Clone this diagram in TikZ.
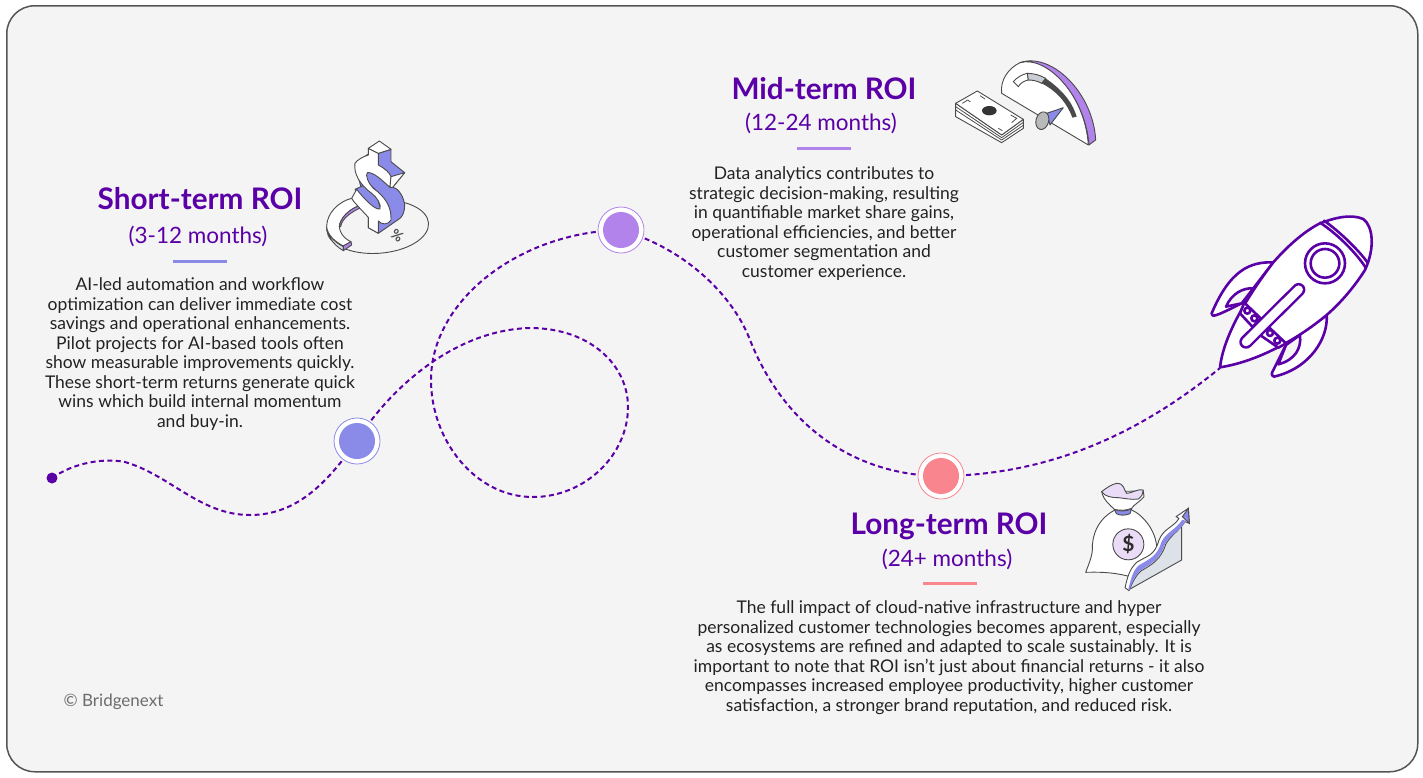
\documentclass[tikz,border=0pt]{standalone}
\usepackage{fontspec}
\setmainfont{Lato}
\definecolor{bgc}{HTML}{F4F4F4}
\definecolor{framec}{HTML}{555555}
\definecolor{ink}{HTML}{5A00A6}
\definecolor{txt}{HTML}{222222}
\definecolor{blu}{HTML}{8A8AE8}
\definecolor{lil}{HTML}{B383EC}
\definecolor{red}{HTML}{F9868E}
\definecolor{pale}{HTML}{EADCF7}
\definecolor{slate}{HTML}{DDE1E8}
\definecolor{edge}{HTML}{4A4A4A}
\tikzset{
  titlet/.style={text=ink,font=\fontsize{29.7}{33}\selectfont\bfseries,anchor=center,inner sep=0pt},
  subt/.style={text=ink,font=\fontsize{22.5}{26}\selectfont,anchor=center,inner sep=0pt},
  body/.style={text=txt,font=\fontsize{17.5}{19.5}\selectfont,align=center,anchor=north,inner sep=0pt},
  stopdot/.style={circle,minimum size=36pt,inner sep=0pt,fill=#1,outer sep=5pt},
  stopring/.style={circle,minimum size=46pt,inner sep=0pt,fill=white,draw=#1,line width=.8pt},
  route/.style={draw=ink,line width=2pt,dash pattern=on 5pt off 3.4pt},
  underl/.style={line width=3pt,draw=#1},
  icon/.style={draw=edge,line width=.9pt,line join=round,fill=white},
  rocketl/.style={draw=ink,line width=2.6pt,line join=round,line cap=round,fill=white},
}
\begin{document}
\begin{tikzpicture}[x=1pt,y=-1pt]
\useasboundingbox (0,0) rectangle (1423,777);
\node[draw=framec,line width=1.5pt,fill=bgc,rounded corners=28pt,minimum width=1411pt,minimum height=766pt,inner sep=0pt,anchor=north west] (frame) at (6,5) {};

% route coordinates and stops
\coordinate (start) at (52,478);
\coordinate (tail) at (1220,368);
\coordinate (s1) at (357,441);
\coordinate (s2) at (621,230);
\coordinate (s3) at (941,476);
\draw[route] (start) .. controls (75,462) and (105,458) .. (125,462)
  .. controls (170,475) and (200,515) .. (250,515)
  .. controls (300,515) and (330,478) .. (s1);
\draw[route] (s1) .. controls (385,395) and (450,330) .. (530,328)
  .. controls (590,328) and (628,365) .. (628,407)
  .. controls (628,455) and (585,497) .. (533,497)
  .. controls (475,497) and (431,440) .. (431,380)
  .. controls (431,300) and (520,232) .. (s2);
\draw[route] (s2) .. controls (690,250) and (735,300) .. (750,340)
  .. controls (790,440) and (870,476) .. (s3);
\draw[route] (s3) .. controls (1060,475) and (1150,425) .. (tail);
\fill[ink] (start) circle (5.5pt);

\node[stopring=blu] (r1) at (s1) {};
\node[stopdot=blu] (d1) at (s1) {};
\node[stopring=lil] (r2) at (s2) {};
\node[stopdot=lil] (d2) at (s2) {};
\node[stopring=red] (r3) at (s3) {};
\node[stopdot=red] (d3) at (s3) {};

% text
\node[titlet] (t1) at (200,199) {Short-term ROI};
\node[subt] (st1) at (198,236) {(3-12 months)};
\draw[underl=blu] (173,261) -- (227,261);
\node[body] (b1) at (200,277.5) {AI-led automation and workflow\\optimization can deliver immediate cost\\savings and operational enhancements.\\Pilot projects for AI-based tools often\\show measurable improvements quickly.\\These short-term returns generate quick\\wins which build internal momentum\\and buy-in.};

\node[titlet] (t2) at (824,89) {Mid-term ROI};
\node[subt] (st2) at (821,123) {(12-24 months)};
\draw[underl=lil] (797,148) -- (851,148);
\node[body] (b2) at (824,166.5) {Data analytics contributes to\\strategic decision-making, resulting\\in quantifiable market share gains,\\operational efficiencies, and better\\customer segmentation and\\customer experience.};

\node[titlet] (t3) at (949,526) {Long-term ROI};
\node[subt] (st3) at (947,559) {(24+ months)};
\draw[underl=red] (923,583) -- (977,583);
\node[body] (b3) at (949,600.5) {The full impact of cloud-native infrastructure and hyper\\personalized customer technologies becomes apparent, especially\\as ecosystems are refined and adapted to scale sustainably. It is\\important to note that ROI isn’t just about financial returns - it also\\encompasses increased employee productivity, higher customer\\satisfaction, a stronger brand reputation, and reduced risk.};

\node[text=gray!85!black,font=\fontsize{17}{19}\selectfont,inner sep=0pt] (copy) at (113.5,702) {© Bridgenext};

% dollar icon
\begin{scope}[shift={(310,130)},x=.3333pt,y=-.3333pt]
\draw[icon,fill=none,rotate around={4:(203,290)}] (203,290) ellipse (153 and 80);
\draw[icon,fill=slate] (50,290) .. controls (50,315) and (70,345) .. (100,362) -- (100,350) .. controls (70,335) and (50,310) .. (50,290) -- cycle;
\draw[icon] (125,205) .. controls (85,215) and (50,250) .. (50,290) .. controls (52,315) and (75,335) .. (100,348) -- (123,335) .. controls (100,325) and (88,305) .. (88,290) .. controls (90,265) and (115,240) .. (145,228) -- cycle;
\draw[icon,fill=lil] (88,290) .. controls (90,265) and (115,240) .. (145,228) -- (150,234) .. controls (120,248) and (95,268) .. (92,290) -- cycle;
\draw[icon,fill=lil] (100,348) -- (123,335) -- (125,345) -- (100,362) -- cycle;
\draw[icon,fill=blu] (205,70) -- (243,58) -- (243,95) -- (284,128) -- (248,172) .. controls (268,175) and (282,205) .. (284,225) .. controls (284,245) and (278,258) .. (270,265) -- (205,310) -- (175,293) -- (175,262) -- (135,100) -- (175,72) -- cycle;
\draw[icon,fill=blu] (135,178) -- (175,160) -- (195,178) -- (212,237) -- (190,240) -- cycle;
\draw[icon] (175,55) -- (205,70) -- (205,105) .. controls (225,115) and (240,130) .. (243,140) -- (240,172) .. controls (215,150) and (190,125) .. (172,128) .. controls (165,135) and (175,160) .. (190,175) .. controls (225,200) and (245,230) .. (243,270) .. controls (235,285) and (215,285) .. (205,273) -- (205,310) -- (175,293) -- (175,262) .. controls (150,235) and (130,215) .. (125,205) -- (140,178) .. controls (165,210) and (195,240) .. (210,237) .. controls (215,225) and (200,200) .. (185,190) .. controls (150,165) and (130,130) .. (135,100) .. controls (140,90) and (160,80) .. (175,75) -- cycle;
\draw[icon] (175,55) -- (208,33) -- (243,58) -- (205,70) -- cycle;
\draw[icon] (243,140) -- (284,128) -- (248,172) -- (240,172) -- cycle;
\node[rotate=-35,text=edge,font=\fontsize{14}{16}\selectfont\bfseries,inner sep=0pt] (pct) at (262,318) {\%};
\end{scope}

% gauge and money icon
\begin{scope}[shift={(945,50)},x=.3333pt,y=-.3333pt]
\draw[icon] (32,160) -- (32,200) -- (170,278) -- (235,235) -- (235,208) -- (170,255) -- cycle;
\draw[edge,line width=.8pt] (32,170) -- (170,263) -- (235,217) (32,180) -- (170,270) -- (235,226);
\draw[icon] (32,160) -- (97,123) -- (235,208) -- (170,255) -- cycle;
\fill[edge!70!black] (133,182) ellipse (22 and 14);
\draw[edge,line width=.8pt] (52,160) -- (68,150) -- (76,156) (105,137) -- (120,147) (197,195) -- (215,205) -- (200,218) (160,235) -- (172,242);
\draw[icon] (170,130) .. controls (165,90) and (190,55) .. (225,38) .. controls (300,10) and (420,130) .. (430,285) -- cycle;
\draw[icon,fill=lil] (225,38) .. controls (320,5) and (445,130) .. (452,270) -- (432,285) .. controls (420,130) and (300,15) .. (225,38) -- cycle;
\draw[edge,line width=.9pt,fill=white] (205,95) .. controls (215,82) and (235,72) .. (247,70) -- (250,90) .. controls (238,92) and (225,100) .. (220,110) -- cycle;
\draw[edge,line width=.9pt,fill=slate!80!gray] (247,70) .. controls (265,70) and (285,75) .. (302,85) -- (290,100) .. controls (278,93) and (262,90) .. (250,90) -- cycle;
\fill[edge] (302,85) .. controls (345,115) and (380,150) .. (395,200) -- (382,203) .. controls (365,155) and (330,120) .. (290,100) -- cycle;
\draw[icon,fill=blu] (305,190) -- (355,173) -- (315,225) -- cycle;
\draw[icon,fill=gray!55,rotate around={-15:(292,212)}] (292,212) ellipse (19 and 27);
\end{scope}

% money bag and chart icon
\begin{scope}[shift={(1075,475)},x=.3333pt,y=-.3333pt]
\draw[icon] (120,105) .. controls (70,130) and (50,180) .. (52,225) .. controls (50,250) and (40,270) .. (32,292) .. controls (90,290) and (130,295) .. (165,305) -- (245,220) .. controls (245,170) and (205,120) .. (170,105) -- cycle;
\draw[icon,fill=blu] (118,103) .. controls (135,110) and (155,110) .. (170,100) -- (165,116) .. controls (150,122) and (135,122) .. (124,116) -- cycle;
\draw[icon] (80,50) .. controls (85,75) and (105,90) .. (118,103) .. controls (135,108) and (155,106) .. (170,100) .. controls (175,90) and (195,80) .. (207,65) -- (205,48) -- cycle;
\draw[icon,fill=pale] (80,50) .. controls (95,38) and (110,28) .. (125,25) .. controls (150,25) and (145,45) .. (155,55) .. controls (170,55) and (190,40) .. (205,45) .. controls (205,55) and (200,65) .. (190,72) .. controls (170,75) and (150,70) .. (130,68) .. controls (110,68) and (90,65) .. (80,50) -- cycle;
\node[circle,draw=edge,line width=.9pt,fill=pale,minimum size=31pt,inner sep=0pt,text=edge!60!black,font=\fontsize{21}{22}\selectfont\bfseries] (coin) at (160,208) {\$};
\draw[icon,fill=slate] (160,345) -- (320,255) -- (320,150) .. controls (300,175) and (280,170) .. (255,220) .. controls (245,255) and (215,262) .. (195,280) .. controls (180,300) and (172,320) .. (160,345) -- cycle;
\draw[icon] (150,338) .. controls (158,305) and (163,283) .. (185,262) .. controls (215,242) and (238,245) .. (252,195) .. controls (268,158) and (295,158) .. (312,130) -- (303,125) -- (340,100) -- (343,145) -- (330,140) .. controls (310,170) and (288,180) .. (272,208) .. controls (258,255) and (228,270) .. (198,288) .. controls (180,303) and (172,325) .. (162,347) -- cycle;
\fill[blu] (160,342) .. controls (168,312) and (172,290) .. (190,272) .. controls (222,252) and (246,245) .. (259,202) .. controls (272,172) and (302,165) .. (322,134) -- (333,138) .. controls (312,170) and (286,180) .. (270,207) .. controls (256,253) and (226,268) .. (197,286) .. controls (179,302) and (171,325) .. (163,346) -- cycle;
\draw[edge,line width=.9pt,fill=blu] (322,125) -- (340,100) -- (343,145) -- cycle;
\end{scope}

% rocket icon
\begin{scope}[shift={(1200,205)},x=.3333pt,y=-.3333pt]
\draw[rocketl] (220,172) .. controls (150,170) and (90,195) .. (35,325) .. controls (35,338) and (45,335) .. (125,295) -- cycle;
\draw[rocketl,fill=bgc] (160,250) .. controls (130,248) and (95,265) .. (78,305) -- (125,295) -- cycle;
\draw[rocketl] (380,330) .. controls (385,400) and (330,490) .. (222,515) .. controls (212,510) and (215,505) .. (220,495) -- (260,415) -- cycle;
\draw[rocketl,fill=bgc] (300,390) .. controls (305,430) and (285,465) .. (235,478) -- (258,420) -- cycle;
\draw[rocketl] (60,487) .. controls (70,400) and (130,290) .. (220,172) .. controls (270,115) and (320,75) .. (360,55) .. controls (400,40) and (450,25) .. (490,42) .. controls (520,65) and (525,130) .. (495,195) .. controls (460,250) and (420,295) .. (380,330) .. controls (290,405) and (170,470) .. (60,487) -- cycle;
\draw[rocketl,fill=none] (360,53) .. controls (410,85) and (470,145) .. (497,188);
\draw[rocketl,fill=none] (372,47) .. controls (420,80) and (480,140) .. (502,172);
\draw[rocketl] (375,175) circle (60);
\draw[rocketl] (375,175) circle (43);
\draw[rocketl] (133,293) -- (182,340) -- (158,366) -- (120,325) -- cycle;
\draw[rocketl] (205,365) -- (258,415) -- (235,428) -- (180,390) -- cycle;
\draw[rocketl] (142,317) circle (9);
\draw[rocketl] (163,340) circle (9);
\draw[rocketl] (210,384) circle (9);
\draw[rocketl] (232,407) circle (9);
\draw[ink,line width=13.5pt,line cap=round] (138,411) -- (296,254);
\draw[white,line width=8.5pt,line cap=round] (138,411) -- (296,254);
\end{scope}
\end{tikzpicture}
\end{document}
